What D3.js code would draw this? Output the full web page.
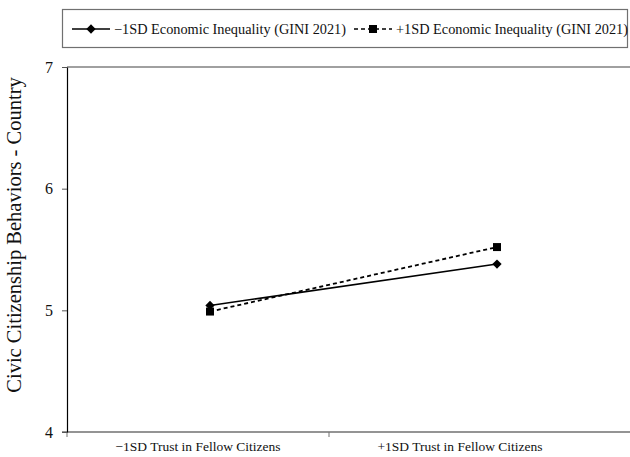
<!DOCTYPE html>
<html>
<head>
<meta charset="utf-8">
<script src="https://cdn.jsdelivr.net/npm/d3@7"></script>
<style>
  body { margin: 0; background: #fff; }
  svg text { font-family: "Times New Roman", "Liberation Serif", "DejaVu Serif", serif; fill: #111; }
</style>
</head>
<body>
<div id="chart"></div>
<script>
// Data
const categories = ['\u22121SD Trust in Fellow Citizens', '+1SD Trust in Fellow Citizens'];
const lowInequality = [5.04, 5.38];
const highInequality = [4.99, 5.52];
const seriesNames = ['\u22121SD Economic Inequality (GINI 2021)', '+1SD Economic Inequality (GINI 2021)'];
const yTicks = [4, 5, 6, 7];

const W = 630, H = 457;
const serif = '"Times New Roman", "Liberation Serif", "DejaVu Serif", serif';

const svg = d3.select('#chart').append('svg')
    .attr('width', W)
    .attr('height', H);

// Scales
const x = d3.scaleBand().domain(categories).range([67, 591]);
const xPt = d3.scalePoint().domain(categories).range([210, 497]);
const y = d3.scaleLinear().domain([4, 7]).range([432, 67]);

// Plot top border
svg.append('line')
    .attr('x1', 67).attr('x2', W)
    .attr('y1', y(7)).attr('y2', y(7))
    .attr('stroke', '#808080').attr('stroke-width', 1.5);

// X axis
const xAxis = svg.append('g')
    .attr('transform', `translate(0,${y(4)})`);
xAxis.append('line')
    .attr('x1', 62).attr('x2', W)
    .attr('stroke', '#707070').attr('stroke-width', 1.5);
[67, x(categories[1])].forEach(t => {
    xAxis.append('line')
        .attr('x1', t).attr('x2', t)
        .attr('y1', 0).attr('y2', 5)
        .attr('stroke', '#707070').attr('stroke-width', 1);
});
xAxis.selectAll('text.cat')
    .data(categories)
    .enter().append('text')
    .attr('x', d => x(d) + x.bandwidth() / 2)
    .attr('y', 19)
    .attr('text-anchor', 'middle')
    .style('font-family', serif)
    .style('font-size', '13.5px')
    .text(d => d);

// Y axis
const yAxis = svg.append('g')
    .attr('transform', 'translate(67,0)')
    .call(d3.axisLeft(y).tickValues(yTicks).tickSize(5).tickSizeOuter(0).tickFormat(d3.format('d')));
yAxis.select('.domain').attr('stroke', '#000').attr('stroke-width', 1.2);
yAxis.selectAll('.tick line').attr('stroke', '#555');
yAxis.selectAll('.tick text')
    .attr('x', -14)
    .style('font-family', serif)
    .style('font-size', '16px')
    .attr('fill', '#222');

svg.append('text')
    .attr('transform', 'rotate(-90)')
    .attr('x', -235)
    .attr('y', 21)
    .attr('text-anchor', 'middle')
    .style('font-family', serif)
    .style('font-size', '20.5px')
    .text('Civic Citizenship Behaviors - Country');

// Lines
const line = d3.line()
    .x((d, i) => xPt(categories[i]))
    .y(d => y(d));

svg.append('path')
    .datum(lowInequality)
    .attr('d', line)
    .attr('fill', 'none')
    .attr('stroke', '#000')
    .attr('stroke-width', 1.5);

svg.append('path')
    .datum(highInequality)
    .attr('d', line)
    .attr('fill', 'none')
    .attr('stroke', '#000')
    .attr('stroke-width', 1.8)
    .attr('stroke-dasharray', '4,3');

const diamond = d3.symbol().type(d3.symbolDiamond2).size(55);
const square = d3.symbol().type(d3.symbolSquare).size(64);

svg.selectAll('path.lowpt')
    .data(lowInequality)
    .enter().append('path')
    .attr('class', 'lowpt')
    .attr('d', diamond)
    .attr('transform', (d, i) => `translate(${xPt(categories[i])},${y(d)})`)
    .attr('fill', '#000');

svg.selectAll('path.highpt')
    .data(highInequality)
    .enter().append('path')
    .attr('class', 'highpt')
    .attr('d', square)
    .attr('transform', (d, i) => `translate(${xPt(categories[i])},${y(d)})`)
    .attr('fill', '#000');

// Legend
const legend = svg.append('g');
legend.append('rect')
    .attr('x', 62.5).attr('y', 9.5)
    .attr('width', 565).attr('height', 38)
    .attr('fill', '#fff')
    .attr('stroke', '#707070')
    .attr('stroke-width', 1.2);

const legendItems = [
    {name: seriesNames[0], x0: 72, dash: null, sym: diamond},
    {name: seriesNames[1], x0: 354, dash: '4,3', sym: square}
];
legendItems.forEach(it => {
    const g = legend.append('g').attr('transform', `translate(${it.x0},29)`);
    g.append('line')
        .attr('x1', 0).attr('x2', 38)
        .attr('stroke', '#000')
        .attr('stroke-width', 1.5)
        .attr('stroke-dasharray', it.dash);
    g.append('path')
        .attr('d', it.sym)
        .attr('transform', 'translate(19,0)')
        .attr('fill', '#000');
    g.append('text')
        .attr('x', 42)
        .attr('y', 5)
        .style('font-family', serif)
        .style('font-size', '14.3px')
        .text(it.name);
});
</script>
</body>
</html>
